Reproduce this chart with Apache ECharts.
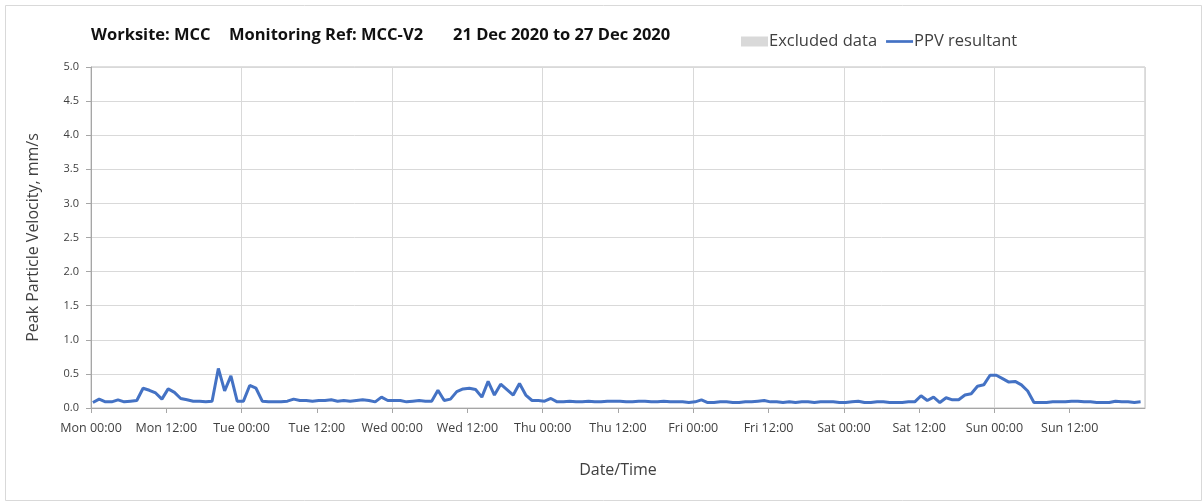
<!DOCTYPE html>
<html>
<head>
<meta charset="utf-8">
<script src="https://cdn.jsdelivr.net/npm/echarts@6/dist/echarts.min.js"></script>
<style>
  html, body { margin: 0; padding: 0; background: #fff; }
  #main { width: 1203px; height: 502px; }
</style>
</head>
<body>
<div id="main"></div>
<script>
// hourly PPV resultant (mm/s), one array per day
const mon = [0.08,0.13,0.09,0.09,0.12,0.09,0.10,0.11,0.29,0.26,0.22,0.13,0.28,0.23,0.14,0.12,0.10,0.10,0.09,0.10,0.58,0.25,0.47,0.10];
const tue = [0.10,0.33,0.29,0.10,0.09,0.09,0.09,0.10,0.13,0.11,0.11,0.10,0.11,0.11,0.12,0.10,0.11,0.10,0.11,0.12,0.11,0.09,0.16,0.11];
const wed = [0.11,0.11,0.09,0.10,0.11,0.10,0.10,0.26,0.11,0.13,0.24,0.28,0.29,0.27,0.16,0.39,0.19,0.35,0.27,0.19,0.36,0.19,0.11,0.11];
const thu = [0.10,0.14,0.09,0.09,0.10,0.09,0.09,0.10,0.09,0.09,0.10,0.10,0.10,0.09,0.09,0.10,0.10,0.09,0.09,0.10,0.09,0.09,0.09,0.08];
const fri = [0.09,0.12,0.08,0.08,0.09,0.09,0.08,0.08,0.09,0.09,0.10,0.11,0.09,0.09,0.08,0.09,0.08,0.09,0.09,0.08,0.09,0.09,0.09,0.08];
const sat = [0.08,0.09,0.10,0.08,0.08,0.09,0.09,0.08,0.08,0.08,0.09,0.09,0.18,0.11,0.16,0.08,0.15,0.12,0.12,0.19,0.21,0.32,0.34,0.48];
const sun = [0.48,0.43,0.38,0.39,0.34,0.25,0.08,0.08,0.08,0.09,0.09,0.09,0.10,0.10,0.09,0.09,0.08,0.08,0.08,0.10,0.09,0.09,0.08,0.09];

const dayNames = ['Mon', 'Tue', 'Wed', 'Thu', 'Fri', 'Sat', 'Sun'];
const titleParts = ['Worksite: MCC', 'Monitoring Ref: MCC-V2', '21 Dec 2020 to 27 Dec 2020'];

// readings are logged a little after the hour
const ppv = [].concat(mon, tue, wed, thu, fri, sat, sun).map((v, i) => [i + 0.3, v]);

const font = '"Open Sans", "Liberation Sans", sans-serif';
const fmtHour = (v) => {
  const d = dayNames[Math.floor(v / 24)] || '';
  return d + ' ' + (v % 24 === 0 ? '00:00' : '12:00');
};

const chart = echarts.init(document.getElementById('main'));
chart.setOption({
  animation: false,
  backgroundColor: '#fff',
  textStyle: { fontFamily: font },
  grid: { left: 91, right: 58, top: 67, bottom: 94, show: true, borderColor: '#bfbfbf', borderWidth: 1 },
  legend: {
    top: 28, left: 736,
    itemWidth: 27, itemHeight: 10, itemGap: 9,
    textStyle: { fontSize: 16.5, color: '#404040', fontFamily: font, padding: [0, 0, 0, -4] },
    data: [
      { name: 'Excluded data', icon: 'rect' },
      { name: 'PPV resultant', icon: 'path://M0,3.5 L30,3.5 L30,6.5 L0,6.5 Z' }
    ]
  },
  xAxis: [
    {
      type: 'value', min: 0, max: 168, interval: 12,
      name: 'Date/Time', nameLocation: 'middle', nameGap: 54,
      nameTextStyle: { fontSize: 16, color: '#404040' },
      axisLine: { show: true, lineStyle: { color: '#a6a6a6' } },
      axisTick: { show: true, length: 5, lineStyle: { color: '#a6a6a6' } },
      axisLabel: { formatter: fmtHour, showMaxLabel: false, fontSize: 12.5, color: '#404040', margin: 14 },
      splitLine: { show: false }
    },
    {
      type: 'value', min: 0, max: 168, interval: 24, position: 'bottom',
      axisLine: { show: false }, axisTick: { show: false }, axisLabel: { show: false },
      splitLine: { show: true, lineStyle: { color: '#d9d9d9' } }
    }
  ],
  yAxis: {
    type: 'value', min: 0, max: 5, interval: 0.5,
    name: 'Peak Particle Velocity, mm/s', nameLocation: 'middle', nameGap: 50,
    nameTextStyle: { fontSize: 16, color: '#404040' },
    axisLine: { show: true, lineStyle: { color: '#a6a6a6' } },
    axisTick: { show: true, length: 5, lineStyle: { color: '#a6a6a6' } },
    axisLabel: { formatter: (v) => v.toFixed(1), fontSize: 11, color: '#404040', margin: 12 },
    splitLine: { show: true, lineStyle: { color: '#d9d9d9' } }
  },
  series: [
    { name: 'Excluded data', type: 'bar', data: [], itemStyle: { color: '#d9d9d9' } },
    {
      name: 'PPV resultant', type: 'line', data: ppv, symbol: 'none',
      itemStyle: { color: '#4472c4' },
      lineStyle: { color: '#4472c4', width: 3 }
    }
  ],
  graphic: [
    { type: 'rect', left: 3, top: 3, shape: { width: 1196, height: 495 }, style: { fill: 'none', stroke: '#d9d9d9', lineWidth: 1 }, silent: true },
    { type: 'text', left: 91, top: 27, style: { text: titleParts[0], font: 'bold 16.5px ' + font, fill: '#111' } },
    { type: 'text', left: 229, top: 27, style: { text: titleParts[1], font: 'bold 16.5px ' + font, fill: '#111' } },
    { type: 'text', left: 453, top: 27, style: { text: titleParts[2], font: 'bold 16.5px ' + font, fill: '#111' } }
  ]
});
</script>
</body>
</html>
